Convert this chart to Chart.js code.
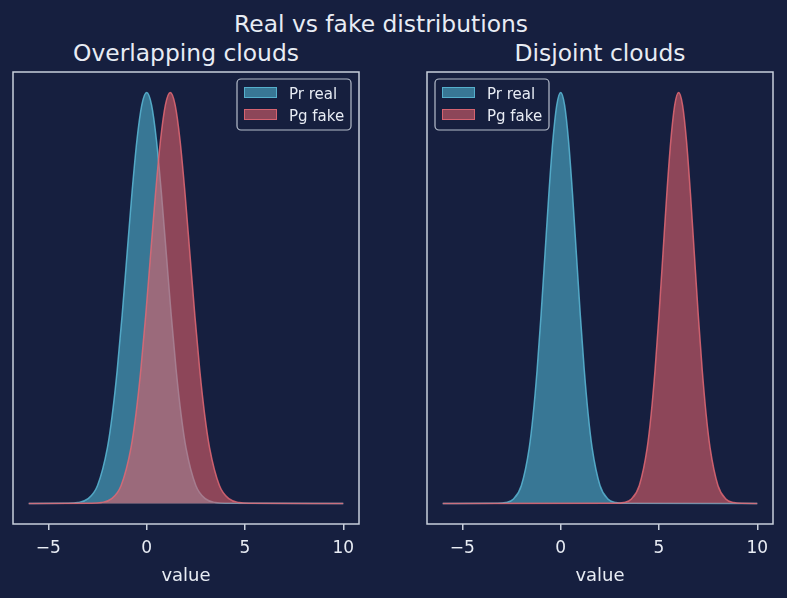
<!DOCTYPE html>
<html><head><meta charset="utf-8">
<script src="https://cdn.jsdelivr.net/npm/chart.js@4.4.1/dist/chart.umd.min.js"></script>
<style>
html,body{margin:0;padding:0;background:#161f3f;}
#wrap{position:relative;width:787px;height:598px;overflow:hidden;background:#161f3f;font-family:"DejaVu Sans",sans-serif;color:#e8ecf4}
canvas{position:absolute;top:0}
.t{position:absolute;font-size:23.4px;line-height:23px;white-space:nowrap;transform:translateX(-50%)}
</style></head><body>
<div id="wrap">
<div class="t" id="sup" style="left:381px;top:13px"></div>
<div class="t" id="t1" style="left:186px;top:42px"></div>
<div class="t" id="t2" style="left:600px;top:42px"></div>
<canvas id="c1" width="393" height="598" style="left:0"></canvas>
<canvas id="c2" width="394" height="598" style="left:393px"></canvas>
</div>
<script>
// ---- data ----
const figTitle = 'Real vs fake distributions';
const panelTitles = ['Overlapping clouds', 'Disjoint clouds'];
const seriesLabels = ['Pr real', 'Pg fake'];
const xAxisLabel = 'value';
const xTickValues = [-5, 0, 5, 10];

// left panel: real
const leftRealX = [-6, -4, -3.5, -3, -2.5, -2, -1.75, -1.5, -1.25, -1, -0.75, -0.5, -0.25, 0, 0.25, 0.5, 0.75, 1, 1.25, 1.5, 1.75, 2, 2.5, 3, 3.5, 4, 10];
const leftRealY = [0, 0.0001, 0.0009, 0.0044, 0.0175, 0.0540, 0.0863, 0.1295, 0.1826, 0.2420, 0.3011, 0.3521, 0.3867, 0.3989, 0.3867, 0.3521, 0.3011, 0.2420, 0.1826, 0.1295, 0.0863, 0.0540, 0.0175, 0.0044, 0.0009, 0.0001, 0];
// left panel: fake
const leftFakeX = [-6, -2.8, -2.3, -1.8, -1.3, -0.8, -0.55, -0.3, -0.05, 0.2, 0.45, 0.7, 0.95, 1.2, 1.45, 1.7, 1.95, 2.2, 2.45, 2.7, 2.95, 3.2, 3.7, 4.2, 4.7, 5.2, 10];
const leftFakeY = [0, 0.0001, 0.0009, 0.0044, 0.0175, 0.0540, 0.0863, 0.1295, 0.1826, 0.2420, 0.3011, 0.3521, 0.3867, 0.3989, 0.3867, 0.3521, 0.3011, 0.2420, 0.1826, 0.1295, 0.0863, 0.0540, 0.0175, 0.0044, 0.0009, 0.0001, 0];
// right panel: real
const rightRealX = [-6, -3.2, -2.8, -2.4, -2.0, -1.6, -1.4, -1.2, -1.0, -0.8, -0.6, -0.4, -0.2, 0, 0.2, 0.4, 0.6, 0.8, 1.0, 1.2, 1.4, 1.6, 2.0, 2.4, 2.8, 3.2, 10];
const rightRealY = [0, 0.0001, 0.0011, 0.0055, 0.0219, 0.0675, 0.1079, 0.1619, 0.2283, 0.3025, 0.3764, 0.4401, 0.4834, 0.4987, 0.4834, 0.4401, 0.3764, 0.3025, 0.2283, 0.1619, 0.1079, 0.0675, 0.0219, 0.0055, 0.0011, 0.0001, 0];
// right panel: fake
const rightFakeX = [-6, 2.8, 3.2, 3.6, 4.0, 4.4, 4.6, 4.8, 5.0, 5.2, 5.4, 5.6, 5.8, 6.0, 6.2, 6.4, 6.6, 6.8, 7.0, 7.2, 7.4, 7.6, 8.0, 8.4, 8.8, 9.2, 10];
const rightFakeY = [0, 0.0001, 0.0011, 0.0055, 0.0219, 0.0675, 0.1079, 0.1619, 0.2283, 0.3025, 0.3764, 0.4401, 0.4834, 0.4987, 0.4834, 0.4401, 0.3764, 0.3025, 0.2283, 0.1619, 0.1079, 0.0675, 0.0219, 0.0055, 0.0011, 0.0001, 0];

// ---- styling ----
const FONT = 'DejaVu Sans';
const TEXT = '#e8ecf4';
const FRAME = '#c8cfdc';
const BG = '#161f3f';
const REAL_FILL = 'rgba(80,178,206,0.6)';
const REAL_EDGE = 'rgba(90,185,214,0.85)';
const FAKE_FILL = 'rgba(222,96,106,0.6)';
const FAKE_EDGE = 'rgba(226,104,116,0.85)';

document.getElementById('sup').textContent = figTitle;
document.getElementById('t1').textContent = panelTitles[0];
document.getElementById('t2').textContent = panelTitles[1];

const pts = (xs, ys) => xs.map((x, i) => ({x: x, y: ys[i]}));

const framePlugin = {
  id: 'frameBox',
  afterDatasetsDraw(chart) {
    const a = chart.chartArea, ctx = chart.ctx;
    ctx.save();
    ctx.strokeStyle = FRAME;
    ctx.lineWidth = 1.5;
    ctx.strokeRect(a.left, a.top, a.right - a.left, a.bottom - a.top);
    ctx.restore();
  }
};

const legendPlugin = {
  id: 'boxLegend',
  afterDraw(chart, args, opts) {
    const a = chart.chartArea, ctx = chart.ctx;
    const w = 114, h = 51;
    const x0 = opts.side === 'right' ? a.right - 8 - w : a.left + 8;
    const y0 = a.top + 7;
    ctx.save();
    ctx.beginPath();
    ctx.roundRect(x0, y0, w, h, 4);
    ctx.fillStyle = 'rgba(22,31,63,0.8)';
    ctx.fill();
    ctx.strokeStyle = 'rgba(200,207,220,0.9)';
    ctx.lineWidth = 1.2;
    ctx.stroke();
    const dsets = chart.data.datasets;
    const rows = [dsets.find(d => d.label === seriesLabels[0]), dsets.find(d => d.label === seriesLabels[1])];
    rows.forEach((d, i) => {
      const py = y0 + 8 + i * 22;
      ctx.fillStyle = BG;
      ctx.fillRect(x0 + 7, py, 33, 11);
      ctx.fillStyle = d.backgroundColor;
      ctx.fillRect(x0 + 7, py, 33, 11);
      ctx.strokeStyle = d.borderColor;
      ctx.lineWidth = 1;
      ctx.strokeRect(x0 + 7.5, py + 0.5, 32, 10);
      ctx.fillStyle = TEXT;
      ctx.font = '15px "' + FONT + '"';
      ctx.textBaseline = 'alphabetic';
      ctx.fillText(d.label, x0 + 52, y0 + 20 + i * 22);
    });
    ctx.restore();
  }
};

function makeChart(id, realPts, fakePts, yMin, yMax, pad, side) {
  return new Chart(document.getElementById(id), {
    type: 'line',
    data: {
      datasets: [
        {label: seriesLabels[0], data: realPts, order: 2, fill: 'origin',
         backgroundColor: REAL_FILL, borderColor: REAL_EDGE, borderWidth: 1.5,
         pointRadius: 0, cubicInterpolationMode: 'monotone'},
        {label: seriesLabels[1], data: fakePts, order: 1, fill: 'origin',
         backgroundColor: FAKE_FILL, borderColor: FAKE_EDGE, borderWidth: 1.5,
         pointRadius: 0, cubicInterpolationMode: 'monotone'}
      ]
    },
    options: {
      responsive: false,
      animation: false,
      events: [],
      layout: {padding: {left: pad[0], right: pad[1], top: 72, bottom: 0}},
      plugins: {
        legend: {display: false},
        tooltip: {enabled: false},
        filler: {drawTime: 'beforeDatasetDraw'},
        boxLegend: {side: side}
      },
      scales: {
        x: {
          type: 'linear', min: -6.8, max: 10.8,
          afterBuildTicks: s => { s.ticks = xTickValues.map(v => ({value: v})); },
          afterFit: s => { s.height = 74; },
          grid: {display: true, drawOnChartArea: false, drawTicks: true, tickLength: 6, color: FRAME, lineWidth: 1.5},
          border: {display: false},
          ticks: {color: TEXT, font: {family: FONT, size: 17}, padding: 8, maxRotation: 0, autoSkip: false,
                  callback: v => (v < 0 ? '\u2212' + Math.abs(v) : String(v))},
          title: {display: true, text: xAxisLabel, color: TEXT, font: {family: FONT, size: 18}, padding: {top: 0, bottom: 11}}
        },
        y: {display: false, min: yMin, max: yMax}
      }
    },
    plugins: [framePlugin, legendPlugin]
  });
}

makeChart('c1', pts(leftRealX, leftRealY), pts(leftFakeX, leftFakeY), -0.01995, 0.41885, [13, 34], 'right');
makeChart('c2', pts(rightRealX, rightRealY), pts(rightFakeX, rightFakeY), -0.02494, 0.52364, [34, 14], 'left');
</script>
</body></html>
